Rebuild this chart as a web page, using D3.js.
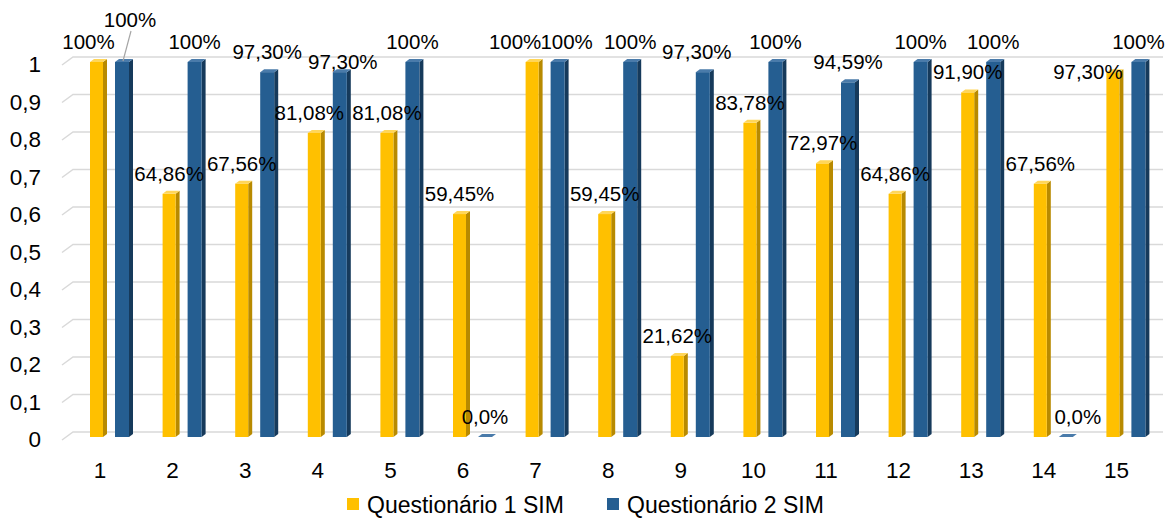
<!DOCTYPE html>
<html>
<head>
<meta charset="utf-8">
<script src="https://cdn.jsdelivr.net/npm/d3@7"></script>
<style>
  html, body { margin: 0; padding: 0; background: #fff; }
  svg { display: block; font-family: "Liberation Sans", Arial, sans-serif; }
</style>
</head>
<body>
<div id="chart"></div>
<script>
// data
const categories = ['1', '2', '3', '4', '5', '6', '7', '8', '9', '10', '11', '12', '13', '14', '15'];
const q1Values = [1, 0.6486, 0.6756, 0.8108, 0.8108, 0.5945, 1, 0.5945, 0.2162, 0.8378, 0.7297, 0.6486, 0.919, 0.6756, 0.973];
const q2Values = [1, 1, 0.973, 0.973, 1, 0, 1, 1, 0.973, 1, 0.9459, 1, 1, 0, 1];
const q1Labels = ['100%', '64,86%', '67,56%', '81,08%', '81,08%', '59,45%', '100%', '59,45%', '21,62%', '83,78%', '72,97%', '64,86%', '91,90%', '67,56%', '97,30%'];
const q2Labels = ['100%', '100%', '97,30%', '97,30%', '100%', '0,0%', '100%', '100%', '97,30%', '100%', '94,59%', '100%', '100%', '0,0%', '100%'];
const yTicks = [0, 0.1, 0.2, 0.3, 0.4, 0.5, 0.6, 0.7, 0.8, 0.9, 1];
const seriesNames = ['Questionário 1 SIM', 'Questionário 2 SIM'];

// label nudges (layout only), [dx, dy] by bar index
const labelNudge = [
  { 0: [-8, 0], 3: [-5, 0], 6: [-17, 0], 14: [-25, 20] },
  { 0: [8, -22], 3: [3, 10], 6: [9, 0], 8: [-6, 0], 13: [12, 0] },
];

const width = 1175;
const height = 519;

const colors = [
  { front: '#FFC000', side: '#B88A00', top: '#FFD659' },
  { front: '#255E91', side: '#163A5B', top: '#4A7BAA' },
];

const svg = d3.select('#chart').append('svg').attr('width', width).attr('height', height);

// scales
const xScale = d3.scaleBand().domain(categories).range([63.7, 1152.7]);
const yScale = d3.scaleLinear().domain([0, 1]).range([432, 57]);
const fmtTick = (d) => String(d).replace('.', ',');

// gridlines with the 3D floor edge
const grid = svg.append('g');
yTicks.forEach((t) => {
  const y = yScale(t);
  grid.append('path')
    .attr('d', `M62,${y + 8}L73,${y}L1163,${y}`)
    .attr('fill', 'none')
    .attr('stroke', '#d9d9d9')
    .attr('stroke-width', 1.5);
});

// y tick labels
svg.append('g')
  .selectAll('text')
  .data(yTicks)
  .join('text')
  .attr('x', 41)
  .attr('y', (d) => yScale(d) + 15)
  .attr('text-anchor', 'end')
  .attr('font-size', 22.5)
  .attr('fill', '#000')
  .text(fmtTick);

// x tick labels
svg.append('g')
  .selectAll('text')
  .data(categories)
  .join('text')
  .attr('x', (d) => xScale(d) + xScale.bandwidth() / 2)
  .attr('y', 478)
  .attr('text-anchor', 'middle')
  .attr('font-size', 22.5)
  .attr('fill', '#000')
  .text((d) => d);

// bars
const depthX = 4;
const depthY = 3;
const barDefs = [
  { values: q1Values, labels: q1Labels, off: -10, w: 13 },
  { values: q2Values, labels: q2Labels, off: 15, w: 14 },
];

const bars = svg.append('g');
const labels = svg.append('g');

barDefs.forEach((s, si) => {
  const c = colors[si];
  s.values.forEach((v, i) => {
    const cx = xScale(categories[i]) + xScale.bandwidth() / 2;
    const x0 = cx + s.off;
    const x1 = x0 + s.w;
    const yb = yScale(0) + 5;
    const yt = yScale(v) + 5;
    const g = bars.append('g');
    // side
    g.append('path')
      .attr('d', `M${x1},${yt}L${x1 + depthX},${yt - depthY}L${x1 + depthX},${yb - depthY}L${x1},${yb}Z`)
      .attr('fill', c.side);
    // front
    if (yb - yt > 0) {
      g.append('rect')
        .attr('x', x0).attr('y', yt)
        .attr('width', s.w).attr('height', yb - yt)
        .attr('fill', c.front);
    }
    // top
    g.append('path')
      .attr('d', `M${x0},${yt}L${x0 + depthX},${yt - depthY}L${x1 + depthX},${yt - depthY}L${x1},${yt}Z`)
      .attr('fill', c.top);

    // data label
    const n = labelNudge[si][i] || [0, 0];
    const lx = x0 + s.w / 2 + n[0];
    const ly = yt - 13 + n[1];
    labels.append('text')
      .attr('x', lx)
      .attr('y', ly)
      .attr('text-anchor', 'middle')
      .attr('font-size', 20.5)
      .attr('fill', '#000')
      .text(s.labels[i]);
    if (si === 1 && i === 0) {
      labels.append('line')
        .attr('x1', lx + 1).attr('y1', ly + 4)
        .attr('x2', x0 + s.w / 2 + 1).attr('y2', yt - 1)
        .attr('stroke', '#a6a6a6')
        .attr('stroke-width', 1.2);
    }
  });
});

// legend
const legend = svg.append('g');
const legendX = [347, 607];
seriesNames.forEach((name, i) => {
  legend.append('rect')
    .attr('x', legendX[i]).attr('y', 498)
    .attr('width', 12).attr('height', 12)
    .attr('fill', colors[i].front);
  legend.append('text')
    .attr('x', legendX[i] + 20)
    .attr('y', 513)
    .attr('font-size', 23)
    .attr('fill', '#000')
    .text(name);
});
</script>
</body>
</html>
